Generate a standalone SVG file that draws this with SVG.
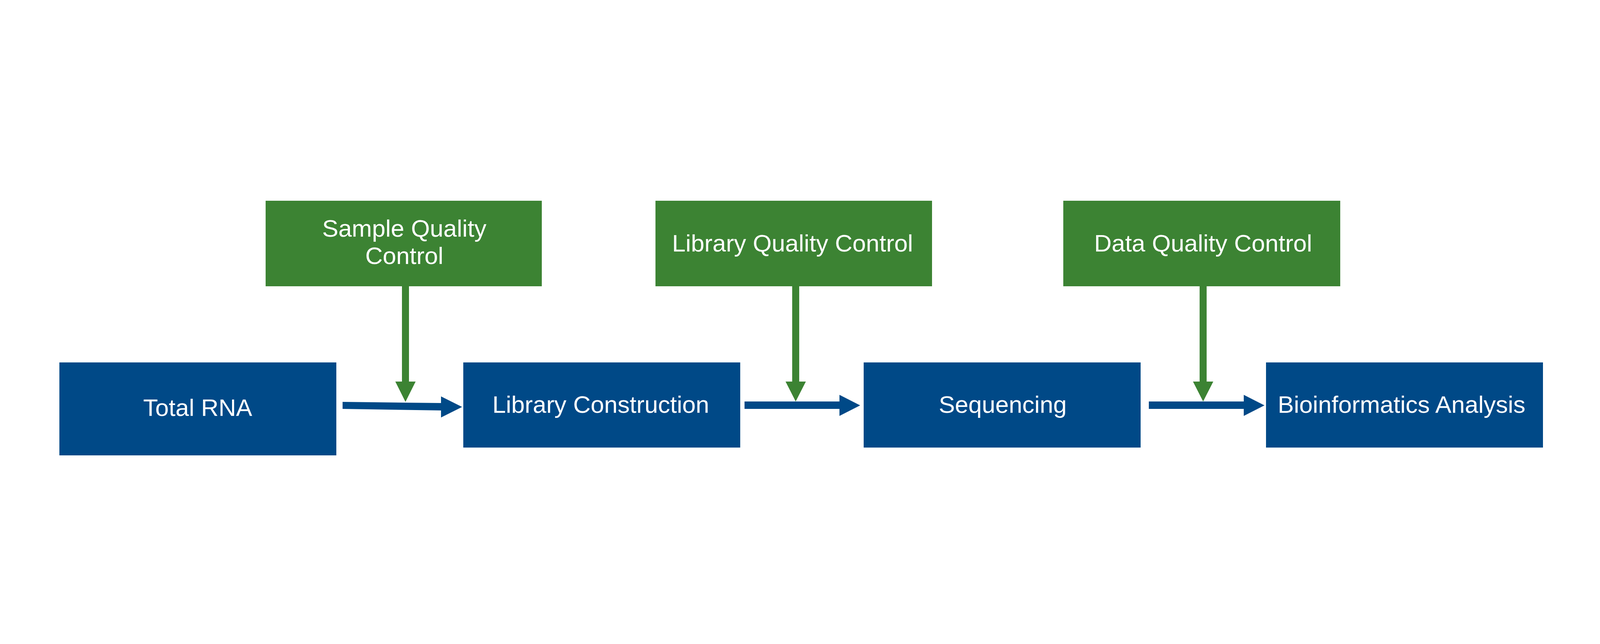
<svg xmlns="http://www.w3.org/2000/svg" width="4097" height="1649" viewBox="0 0 4097 1649">
  <style>
    .blue { fill: #004987; }
    .green { fill: #3C8333; }
    .lbl { font-family: "Liberation Sans", Arial, sans-serif; font-size: 62px; fill: #FFFFFF; text-anchor: middle; }
    .arrB { fill: #004987; }
    .arrG { fill: #3C8333; }
  </style>
  <rect x="0" y="0" width="4097" height="1649" fill="#FFFFFF"/>

  <g id="connectors">
    <polygon class="arrG" points="1029,733 1047,733 1047,977 1064,977 1038,1029 1012,977 1029,977"/>
    <polygon class="arrG" points="2028,733 2046,733 2046,977 2063,977 2037,1028 2011,977 2028,977"/>
    <polygon class="arrG" points="3071,733 3089,733 3089,977 3106,977 3080,1028 3054,977 3071,977"/>
    <polygon class="arrB" points="877,1029 1129,1032 1129,1015 1183,1042 1129,1069 1129,1051 877,1047"/>
    <polygon class="arrB" points="1906,1028 2149,1028 2149,1011 2202,1038 2149,1065 2149,1047 1906,1047"/>
    <polygon class="arrB" points="2941,1028 3184,1028 3184,1011 3237,1038 3184,1065 3184,1047 2941,1047"/>
  </g>

  <g id="node-total-rna">
    <rect class="blue" x="152" y="928" width="709" height="238"/>
    <text class="lbl" x="506" y="1065">Total RNA</text>
  </g>
  <g id="node-library-construction">
    <rect class="blue" x="1186" y="928" width="709" height="218"/>
    <text class="lbl" x="1538" y="1057">Library Construction</text>
  </g>
  <g id="node-sequencing">
    <rect class="blue" x="2211" y="928" width="709" height="218"/>
    <text class="lbl" x="2567" y="1057">Sequencing</text>
  </g>
  <g id="node-bioinformatics">
    <rect class="blue" x="3241" y="928" width="709" height="218"/>
    <text class="lbl" x="3588" y="1057">Bioinformatics Analysis</text>
  </g>
  <g id="node-sample-qc">
    <rect class="green" x="680" y="514" width="707" height="219"/>
    <text class="lbl" x="1035" y="606">Sample Quality</text>
    <text class="lbl" x="1035" y="676">Control</text>
  </g>
  <g id="node-library-qc">
    <rect class="green" x="1678" y="514" width="708" height="219"/>
    <text class="lbl" x="2029" y="644">Library Quality Control</text>
  </g>
  <g id="node-data-qc">
    <rect class="green" x="2722" y="514" width="709" height="219"/>
    <text class="lbl" x="3080" y="644">Data Quality Control</text>
  </g>
</svg>
